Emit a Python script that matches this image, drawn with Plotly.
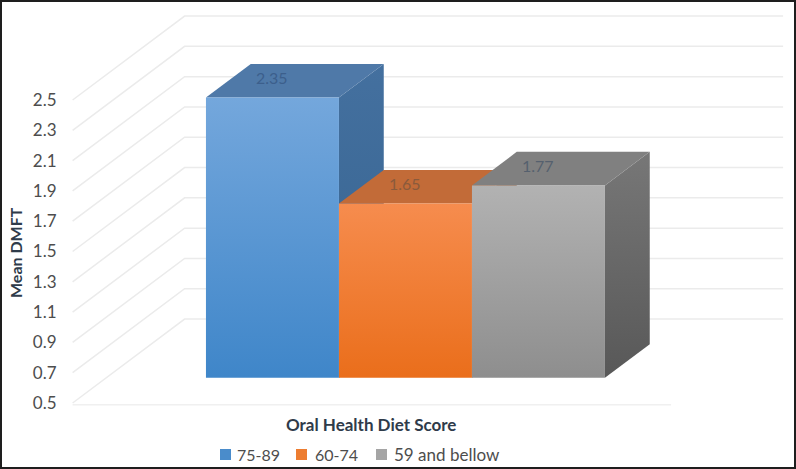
import plotly.graph_objects as go

# data
categories = ["75-89", "60-74", "59 and bellow"]
values = [2.35, 1.65, 1.77]
tick_vals = [0.5, 0.7, 0.9, 1.1, 1.3, 1.5, 1.7, 1.9, 2.1, 2.3, 2.5]
x_title = "Oral Health Diet Score"
y_title = "Mean DMFT"

# colours per bar: (front top, front bottom), top face, (side top, side bottom)
front_colors = [("#74a7dc", "#3f86c9"), ("#f68c4e", "#ea6e1b"), ("#b2b2b2", "#8e8e8e")]
top_colors = ["#4f79a8", "#c26b38", "#808080"]
side_colors = [("#44709f", "#35638f"), ("#a85a2c", "#a85a2c"), ("#777777", "#585858")]
legend_colors = ["#4a8ccb", "#ed7d31", "#a5a5a5"]
value_colors = ["#3c5f8c", "#8a5a3c", "#55606e"]

GRID = "#ebebeb"
TEXT = "#4d4d4d"
TITLE = "#2f3b4a"
W, H = 796, 469

# oblique projection, depth runs 0 (front of floor) to 1 (back wall)
BASE = 0.5
DEPTH_X = 0.842
DEPTH_Y = 0.554
BAR_D0, BAR_D1 = 0.3, 0.7
X_LO, X_HI = -0.75, 3.75


def project(x, v, d):
    return x + d * DEPTH_X, v + d * DEPTH_Y


def poly(points):
    pts = [project(*p) for p in points] + [project(*points[0])]
    return [p[0] for p in pts], [p[1] for p in pts]


def face(points, color):
    xs, ys = poly(points)
    kw = dict(fillcolor=color) if isinstance(color, str) else dict(
        fillgradient=dict(
            type="vertical",
            colorscale=[[0, color[1]], [1, color[0]]],
        )
    )
    return go.Scatter(x=xs, y=ys, mode="lines", fill="toself", line=dict(width=0), **kw)


def label(px, py, text, size, color, xanchor="center", angle=0, family="Lato"):
    # place a text by its pixel position on the page
    fig.add_annotation(
        xref="paper", yref="paper", x=px / W, y=1 - py / H,
        xanchor=xanchor, yanchor="middle", textangle=angle,
        text=text, showarrow=False,
        font=dict(family=family, size=size, color=color),
    )


fig = go.Figure()

# walls: side wall diagonals and back wall lines
for v in tick_vals:
    a = project(X_LO, v, 0)
    b = project(X_LO, v, 1)
    c = project(X_HI, v, 1)
    fig.add_trace(go.Scatter(
        x=[a[0], b[0], c[0]], y=[a[1], b[1], c[1]],
        mode="lines", line=dict(color=GRID, width=1.5),
    ))
fig.add_trace(go.Scatter(
    x=[X_LO, X_HI], y=[BASE - 0.012, BASE - 0.012],
    mode="lines", line=dict(color="#f0f0f0", width=1.5),
))

# bars, left to right so each one covers the side of the previous
for i, v in enumerate(values):
    fig.add_trace(face([(i + 1, BASE, BAR_D0), (i + 1, BASE, BAR_D1),
                        (i + 1, v, BAR_D1), (i + 1, v, BAR_D0)], side_colors[i]))
    fig.add_trace(face([(i, v, BAR_D0), (i + 1, v, BAR_D0),
                        (i + 1, v, BAR_D1), (i, v, BAR_D1)], top_colors[i]))
    fig.add_trace(face([(i, BASE, BAR_D0), (i + 1, BASE, BAR_D0),
                        (i + 1, v, BAR_D0), (i, v, BAR_D0)], front_colors[i]))

# value labels sit on the top face
for i, v in enumerate(values):
    lx, ly = project(i + 0.5, v, BAR_D0)
    fig.add_annotation(
        x=lx, y=ly + 0.132, text=f"{v:.2f}", showarrow=False,
        xanchor="center", yanchor="middle",
        font=dict(family="Lato", size=16, color=value_colors[i]),
    )

# legend row
legend_px = [(220, 235), (296, 313), (376, 392)]
for i, name in enumerate(categories):
    fig.add_shape(
        type="rect", xref="paper", yref="paper",
        x0=legend_px[i][0] / W, x1=(legend_px[i][0] + 11) / W,
        y0=1 - 460 / H, y1=1 - 449 / H,
        fillcolor=legend_colors[i], line=dict(width=0),
    )
    label(legend_px[i][1], 454, name, 17 if i == 2 else 16, TEXT, xanchor="left")

label(371, 424, f"<b>{x_title}</b>", 17, TITLE)
label(15, 253, f"<b>{y_title}</b>", 16, TITLE, angle=-90)

# picture frame
fig.add_shape(
    type="rect", xref="paper", yref="paper", x0=0, x1=1, y0=0, y1=1,
    line=dict(color="#1e1e1e", width=4),
)

fig.update_layout(
    width=W,
    height=H,
    showlegend=False,
    hovermode=False,
    plot_bgcolor="white",
    paper_bgcolor="white",
    margin=dict(l=0, r=0, t=0, b=0),
    xaxis=dict(range=[-1.296, 4.689], visible=False),
    yaxis=dict(
        range=[0.0644, 3.160],
        anchor="free",
        position=56.5 / W,
        tickmode="array",
        tickvals=tick_vals,
        ticktext=[f"{t:.1f}" for t in tick_vals],
        tickfont=dict(family="Lato", size=17, color=TEXT),
        showgrid=False,
        zeroline=False,
        showline=False,
    ),
)

# the page's default body margin would push the chart off its spot
fig.write_html(
    "out.html",
    config={"displayModeBar": False},
    post_script="document.body.style.margin = '0';",
)
